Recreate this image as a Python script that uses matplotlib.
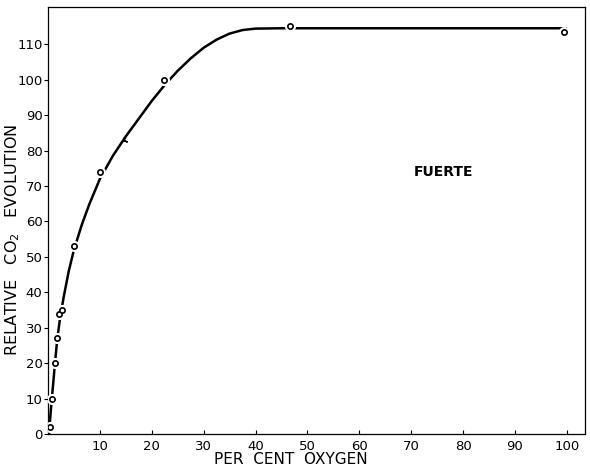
import matplotlib
matplotlib.use("Agg")
import matplotlib.pyplot as plt

# points mesures (oxygene %, CO2 relatif)
pts_x = [0.3, 0.8, 1.3, 1.7, 2.2, 2.7, 5.0, 10.0, 22.3, 46.7, 99.5]
pts_y = [2, 10, 20, 27, 34, 35, 53, 74, 100, 115.2, 113.5]
# point marque d'une croix
star_x = [14.6]
star_y = [83]

# courbe tracee a la main
curve_x = [0.2, 0.5, 0.8, 1.1, 1.4, 1.8, 2.3, 3.0, 4.0, 5.0, 6.5, 8.0, 10.0,
           12.5, 15.0, 17.5, 20.0, 22.5, 25.0, 27.5, 30.0, 32.5, 35.0, 37.5,
           40.0, 45.0, 50.0, 60.0, 80.0, 99.8]
curve_y = [0, 6, 11, 16, 21, 27, 32.5, 38.5, 46, 52, 59, 65, 72,
           78.5, 84, 89, 94, 98.5, 102.5, 106, 109, 111.3, 113, 114,
           114.4, 114.5, 114.5, 114.5, 114.5, 114.5]

xticks = [10, 20, 30, 40, 50, 60, 70, 80, 90, 100]
yticks = [0, 10, 20, 30, 40, 50, 60, 70, 80, 90, 100, 110]

fig = plt.figure(figsize=(5.9, 4.67), dpi=100)
ax = fig.add_axes([0.0814, 0.0707, 0.9101, 0.9143])

ax.plot(curve_x, curve_y, color="black", lw=1.8, zorder=2)
# halo blanc pour couper la ligne autour des points
ax.plot(pts_x, pts_y, "o", ms=7, mfc="white", mec="white", zorder=3)
ax.plot(pts_x, pts_y, "o", ms=3.8, mfc="white", mec="black", mew=1.2, zorder=4)
ax.plot(star_x, star_y, marker=(3, 2, 0), ms=5, color="black", lw=0, zorder=4)

ax.set_xlim(0, 103.5)
ax.set_ylim(0, 120.5)
ax.set_xticks(xticks)
ax.set_yticks(yticks)
ax.tick_params(axis="x", direction="in", length=3, labelsize=9.5, pad=4)
ax.tick_params(axis="y", direction="out", length=3, labelsize=9.5, pad=1)
for s in ax.spines.values():
    s.set_linewidth(0.9)

# titres des axes places a la main (lettrage large comme l'original)
fig.text(291 / 590, 1 - 459 / 467, "PER  CENT  OXYGEN", fontsize=11,
         ha="center", va="center")
fig.text(13 / 590, 1 - 240 / 467, "RELATIVE   CO$_2$   EVOLUTION", fontsize=11.5,
         rotation=90, ha="center", va="center")
ax.text(76.3, 74, "FUERTE", fontsize=10, fontweight="bold", ha="center", va="center")

fig.savefig("out.png", dpi=100)
